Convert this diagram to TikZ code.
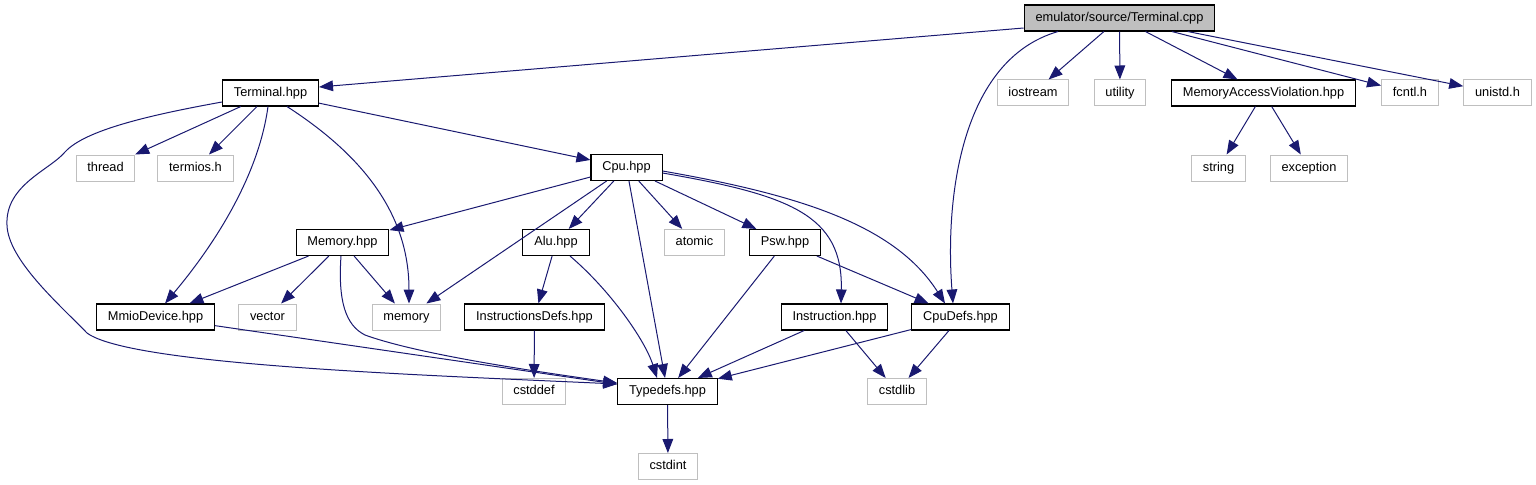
\documentclass[tikz,border=0pt]{standalone}
\usepackage{fontspec}
\setmainfont{Liberation Sans}
\usetikzlibrary{arrows.meta}
\definecolor{edgeblue}{HTML}{191970}
\definecolor{boxgray}{HTML}{BFBFBF}

\begin{document}
\begin{tikzpicture}[
            x=0.75pt, y=-0.75pt,
            every node/.style={font=\fontsize{9.6}{11}\selectfont, inner xsep=8.5pt,
                               inner ysep=0pt, minimum height=19.5pt,
                               text height=7pt, text depth=2.2pt},
            hdr/.style={draw=black, line width=0.8pt},
            sys/.style={draw=boxgray, line width=0.75pt},
            cur/.style={draw=black, fill=boxgray, line width=0.8pt},
            dep/.style={-{Triangle[length=10.5pt, width=8pt]}, draw=edgeblue, line width=0.75pt}
        ]
        \useasboundingbox (0,0) rectangle (1536,485);

        % --- top: the source file and what it includes ---
        \node[cur] (root) at (1119.5,18) {emulator/source/Terminal.cpp};
        \node[hdr] (term) at (270.5,93) {Terminal.hpp};
        \node[sys] (iostream) at (1033,93) {iostream};
        \node[sys] (utility) at (1120,93) {utility};
        \node[hdr] (mav) at (1263.5,93) {MemoryAccessViolation.hpp};
        \node[sys] (fcntl) at (1410,93) {fcntl.h};
        \node[sys] (unistd) at (1497.5,93) {unistd.h};

        % --- second row ---
        \node[sys] (thread) at (105.5,168) {thread};
        \node[sys] (termios) at (195.5,168) {termios.h};
        \node[hdr] (cpu) at (626.5,167.5) {Cpu.hpp};
        \node[sys] (string) at (1218.5,168) {string};
        \node[sys] (exception) at (1309,168) {exception};

        % --- third row ---
        \node[hdr] (memh) at (342.5,242.5) {Memory.hpp};
        \node[hdr] (alu) at (556,242.5) {Alu.hpp};
        \node[sys] (atomic) at (694.5,242.5) {atomic};
        \node[hdr] (psw) at (785,242.5) {Psw.hpp};

        % --- fourth row ---
        \node[hdr] (mmio) at (155.5,317) {MmioDevice.hpp};
        \node[sys] (vector) at (267.5,317) {vector};
        \node[sys] (memory) at (406.5,317) {memory};
        \node[hdr] (idefs) at (534.5,317) {InstructionsDefs.hpp};
        \node[hdr] (instr) at (834.5,317) {Instruction.hpp};
        \node[hdr] (cpudefs) at (960.5,317) {CpuDefs.hpp};

        % --- bottom rows ---
        \node[sys] (cstddef) at (534,391.5) {cstddef};
        \node[hdr] (typedefs) at (667.5,391.5) {Typedefs.hpp};
        \node[sys] (cstdlib) at (897,391.5) {cstdlib};
        \node[sys] (cstdint) at (668,466.5) {cstdint};

        % --- edges of Terminal.cpp ---
        \draw[dep] (root.west |- 0,28) -- (term.east |- 0,87);
        \draw[dep] (root.south -| 1058,0) .. controls (960,60) and (945,200) .. (cpudefs.north -| 953,0);
        \foreach \dst in {iostream, utility, mav, fcntl, unistd}
            \draw[dep] (root) -- (\dst);
        \draw[dep] (mav) -- (string);
        \draw[dep] (mav) -- (exception);

        % --- edges of Terminal.hpp ---
        \draw[dep] (term) -- (thread);
        \draw[dep] (term) -- (termios);
        \draw[dep] (term) -- (cpu);
        \draw[dep] (term.south -| 268,0) .. controls (258,180) and (210,250) .. (mmio.north -| 165,0);
        \draw[dep] (term.south -| 287,0) .. controls (370,160) and (409,220) .. (memory.north -| 409,0);
        \draw[dep] (term.west |- 0,102) .. controls (150,115) and (85,130) .. (65,152)
            .. controls (50,170) and (5,185) .. (7,225)
            .. controls (8,260) and (60,305) .. (87,333)
            .. controls (130,365) and (420,375) .. (typedefs.west |- 0,384);

        % --- edges of Cpu.hpp ---
        \foreach \dst in {memh, memory, alu, typedefs, atomic, psw}
            \draw[dep] (cpu) -- (\dst);
        \draw[dep] (cpu.east |- 0,173) .. controls (790,195) and (843,215) .. (instr.north -| 841,0);
        \draw[dep] (cpu.east |- 0,171) .. controls (800,195) and (895,225) .. (cpudefs.north -| 945,0);

        % --- remaining edges ---
        \draw[dep] (memh) -- (mmio);
        \draw[dep] (memh) -- (vector);
        \draw[dep] (memh) -- (memory);
        \draw[dep] (memh.south -| 341,0) .. controls (338,300) and (345,325) .. (365,335)
            .. controls (420,355) and (540,372) .. (typedefs.west |- 0,383);
        \draw[dep] (alu) -- (idefs);
        \draw[dep] (alu.south -| 570,0) .. controls (610,290) and (645,340) .. (typedefs.north -| 657,0);
        \draw[dep] (psw) -- (typedefs);
        \draw[dep] (psw) -- (cpudefs);
        \draw[dep] (idefs) -- (cstddef);
        \draw[dep] (mmio) -- (typedefs);
        \draw[dep] (instr) -- (typedefs);
        \draw[dep] (instr) -- (cstdlib);
        \draw[dep] (cpudefs) -- (typedefs);
        \draw[dep] (cpudefs) -- (cstdlib);
        \draw[dep] (typedefs) -- (cstdint);
\end{tikzpicture}
\end{document}
